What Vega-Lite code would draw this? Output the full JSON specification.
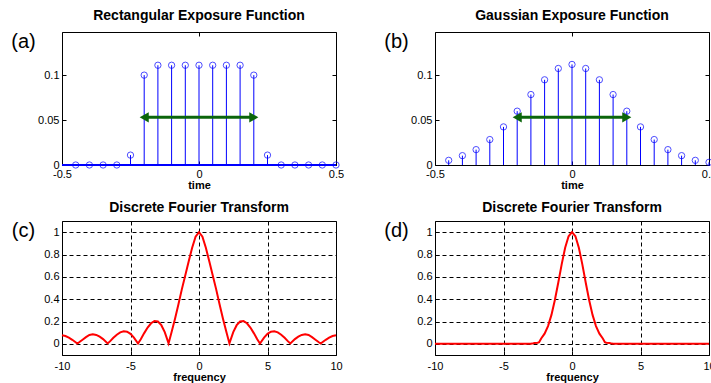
{
  "$schema": "https://vega.github.io/schema/vega-lite/v6.json",
  "padding": {"left": 10, "top": 8, "right": 0, "bottom": 0},
  "background": "white",
  "bounds": "flush",
  "spacing": {"row": 56, "column": 99},
  "columns": 2,
  "datasets": {
    "rect": [
      {"t": -0.45, "v": 0}, {"t": -0.4, "v": 0}, {"t": -0.35, "v": 0}, {"t": -0.3, "v": 0},
      {"t": -0.25, "v": 0.011}, {"t": -0.2, "v": 0.1}, {"t": -0.15, "v": 0.111}, {"t": -0.1, "v": 0.111},
      {"t": -0.05, "v": 0.111}, {"t": 0, "v": 0.111}, {"t": 0.05, "v": 0.111}, {"t": 0.1, "v": 0.111},
      {"t": 0.15, "v": 0.111}, {"t": 0.2, "v": 0.1}, {"t": 0.25, "v": 0.011}, {"t": 0.3, "v": 0},
      {"t": 0.35, "v": 0}, {"t": 0.4, "v": 0}, {"t": 0.45, "v": 0}, {"t": 0.5, "v": 0}
    ],
    "gauss": [
      {"t": -0.45, "v": 0.0052}, {"t": -0.4, "v": 0.0104}, {"t": -0.35, "v": 0.0171}, {"t": -0.3, "v": 0.0283},
      {"t": -0.25, "v": 0.0424}, {"t": -0.2, "v": 0.0599}, {"t": -0.15, "v": 0.0784}, {"t": -0.1, "v": 0.0948},
      {"t": -0.05, "v": 0.1074}, {"t": 0, "v": 0.1119}, {"t": 0.05, "v": 0.1074}, {"t": 0.1, "v": 0.0948},
      {"t": 0.15, "v": 0.0784}, {"t": 0.2, "v": 0.0599}, {"t": 0.25, "v": 0.0424}, {"t": 0.3, "v": 0.0283},
      {"t": 0.35, "v": 0.0171}, {"t": 0.4, "v": 0.0104}, {"t": 0.45, "v": 0.0052}, {"t": 0.5, "v": 0.003}
    ],
    "arrow": [{"x1": -0.2, "x2": 0.2, "y": 0.053}],
    "dftRect": [
      {"f": -10, "v": 0.076}, {"f": -9.75, "v": 0.07}, {"f": -9.5, "v": 0.056}, {"f": -9.25, "v": 0.036},
      {"f": -8.88, "v": 0.003}, {"f": -8.75, "v": 0.014}, {"f": -8.5, "v": 0.037}, {"f": -8.25, "v": 0.06},
      {"f": -8, "v": 0.079}, {"f": -7.75, "v": 0.085}, {"f": -7.5, "v": 0.08}, {"f": -7.25, "v": 0.064},
      {"f": -7, "v": 0.042}, {"f": -6.67, "v": 0.003}, {"f": -6.5, "v": 0.022}, {"f": -6.25, "v": 0.054},
      {"f": -6, "v": 0.082}, {"f": -5.75, "v": 0.103}, {"f": -5.5, "v": 0.112}, {"f": -5.25, "v": 0.108},
      {"f": -5, "v": 0.089}, {"f": -4.75, "v": 0.056}, {"f": -4.45, "v": 0.003}, {"f": -4.25, "v": 0.041},
      {"f": -4, "v": 0.096}, {"f": -3.75, "v": 0.146}, {"f": -3.5, "v": 0.184}, {"f": -3.25, "v": 0.204},
      {"f": -3, "v": 0.2}, {"f": -2.75, "v": 0.167}, {"f": -2.5, "v": 0.105}, {"f": -2.22, "v": 0.004},
      {"f": -2, "v": 0.105}, {"f": -1.75, "v": 0.225}, {"f": -1.5, "v": 0.355}, {"f": -1.25, "v": 0.49},
      {"f": -1, "v": 0.615}, {"f": -0.75, "v": 0.74}, {"f": -0.5, "v": 0.86}, {"f": -0.25, "v": 0.96},
      {"f": 0, "v": 1.0},
      {"f": 0.25, "v": 0.96}, {"f": 0.5, "v": 0.86}, {"f": 0.75, "v": 0.74}, {"f": 1, "v": 0.615},
      {"f": 1.25, "v": 0.49}, {"f": 1.5, "v": 0.355}, {"f": 1.75, "v": 0.225}, {"f": 2, "v": 0.105},
      {"f": 2.22, "v": 0.004}, {"f": 2.5, "v": 0.105}, {"f": 2.75, "v": 0.167}, {"f": 3, "v": 0.2},
      {"f": 3.25, "v": 0.204}, {"f": 3.5, "v": 0.184}, {"f": 3.75, "v": 0.146}, {"f": 4, "v": 0.096},
      {"f": 4.25, "v": 0.041}, {"f": 4.45, "v": 0.003}, {"f": 4.75, "v": 0.056}, {"f": 5, "v": 0.089},
      {"f": 5.25, "v": 0.108}, {"f": 5.5, "v": 0.112}, {"f": 5.75, "v": 0.103}, {"f": 6, "v": 0.082},
      {"f": 6.25, "v": 0.054}, {"f": 6.5, "v": 0.022}, {"f": 6.67, "v": 0.003}, {"f": 7, "v": 0.042},
      {"f": 7.25, "v": 0.064}, {"f": 7.5, "v": 0.08}, {"f": 7.75, "v": 0.085}, {"f": 8, "v": 0.079},
      {"f": 8.25, "v": 0.06}, {"f": 8.5, "v": 0.037}, {"f": 8.75, "v": 0.014}, {"f": 8.88, "v": 0.003},
      {"f": 9.25, "v": 0.036}, {"f": 9.5, "v": 0.056}, {"f": 9.75, "v": 0.07}, {"f": 10, "v": 0.076}
    ],
    "dftGauss": [
      {"f": -10, "v": 0}, {"f": -3, "v": 0}, {"f": -2.9, "v": 0.002}, {"f": -2.75, "v": 0.008},
      {"f": -2.5, "v": 0.01}, {"f": -2.4, "v": 0.015}, {"f": -2.25, "v": 0.048}, {"f": -2, "v": 0.091},
      {"f": -1.75, "v": 0.159}, {"f": -1.5, "v": 0.259}, {"f": -1.25, "v": 0.392}, {"f": -1, "v": 0.549},
      {"f": -0.75, "v": 0.714}, {"f": -0.5, "v": 0.861}, {"f": -0.25, "v": 0.963}, {"f": 0, "v": 1.0},
      {"f": 0.25, "v": 0.963}, {"f": 0.5, "v": 0.861}, {"f": 0.75, "v": 0.714}, {"f": 1, "v": 0.549},
      {"f": 1.25, "v": 0.392}, {"f": 1.5, "v": 0.259}, {"f": 1.75, "v": 0.159}, {"f": 2, "v": 0.091},
      {"f": 2.25, "v": 0.048}, {"f": 2.4, "v": 0.015}, {"f": 2.5, "v": 0.01}, {"f": 2.75, "v": 0.008},
      {"f": 2.9, "v": 0.002}, {"f": 3, "v": 0}, {"f": 10, "v": 0}
    ]
  },
  "concat": [
    {
      "width": 274, "height": 133,
      "title": {"text": "Rectangular Exposure Function", "offset": 8},
      "resolve": {"axis": {"x": "independent", "y": "independent"}},
      "layer": [
        {
          "data": {"name": "rect"},
          "mark": {"type": "rule", "color": "#0000ff", "strokeWidth": 1},
          "encoding": {
            "x": {"field": "t", "type": "quantitative", "scale": {"domain": [-0.5, 0.5], "nice": false, "zero": false},
              "axis": {"values": [-0.5, 0, 0.5], "title": "time"}},
            "y": {"field": "v", "type": "quantitative", "scale": {"domain": [0, 0.148], "nice": false},
              "axis": {"values": [0, 0.05, 0.1], "title": "(a)"}},
            "y2": {"datum": 0}
          }
        },
        {
          "data": {"name": "rect"},
          "mark": {"type": "point", "shape": "circle", "filled": false, "color": "#0000ff", "size": 40, "strokeWidth": 1},
          "encoding": {
            "x": {"field": "t", "type": "quantitative", "axis": {"orient": "top", "values": [-0.5, 0, 0.5], "labels": false, "title": null}},
            "y": {"field": "v", "type": "quantitative", "axis": {"orient": "right", "values": [0, 0.05, 0.1], "labels": false, "title": null}}
          }
        },
        {
          "data": {"name": "rect"},
          "mark": {"type": "rule", "color": "#0000ff", "strokeWidth": 1},
          "encoding": {"y": {"datum": 0, "axis": null}}
        },
        {
          "data": {"name": "arrow"},
          "mark": {"type": "rule", "color": "#0b650b", "strokeWidth": 3},
          "encoding": {"x": {"field": "x1", "type": "quantitative", "axis": null}, "x2": {"field": "x2"}, "y": {"field": "y", "type": "quantitative", "axis": null}}
        },
        {
          "data": {"name": "arrow"},
          "mark": {"type": "point", "shape": "triangle-left", "filled": true, "color": "#0b650b", "size": 110, "opacity": 1},
          "encoding": {"x": {"field": "x1", "type": "quantitative", "axis": null}, "y": {"field": "y", "type": "quantitative", "axis": null}}
        },
        {
          "data": {"name": "arrow"},
          "mark": {"type": "point", "shape": "triangle-right", "filled": true, "color": "#0b650b", "size": 110, "opacity": 1},
          "encoding": {"x": {"field": "x2", "type": "quantitative", "axis": null}, "y": {"field": "y", "type": "quantitative", "axis": null}}
        }
      ]
    },
    {
      "width": 274, "height": 133,
      "title": {"text": "Gaussian Exposure Function", "offset": 8},
      "resolve": {"axis": {"x": "independent", "y": "independent"}},
      "layer": [
        {
          "data": {"name": "gauss"},
          "mark": {"type": "rule", "color": "#0000ff", "strokeWidth": 1},
          "encoding": {
            "x": {"field": "t", "type": "quantitative", "scale": {"domain": [-0.5, 0.5], "nice": false, "zero": false},
              "axis": {"values": [-0.5, 0, 0.5], "title": "time"}},
            "y": {"field": "v", "type": "quantitative", "scale": {"domain": [0, 0.148], "nice": false},
              "axis": {"values": [0, 0.05, 0.1], "title": "(b)"}},
            "y2": {"datum": 0}
          }
        },
        {
          "data": {"name": "gauss"},
          "mark": {"type": "point", "shape": "circle", "filled": false, "color": "#0000ff", "size": 40, "strokeWidth": 1},
          "encoding": {
            "x": {"field": "t", "type": "quantitative", "axis": {"orient": "top", "values": [-0.5, 0, 0.5], "labels": false, "title": null}},
            "y": {"field": "v", "type": "quantitative", "axis": {"orient": "right", "values": [0, 0.05, 0.1], "labels": false, "title": null}}
          }
        },
        {
          "data": {"name": "arrow"},
          "mark": {"type": "rule", "color": "#0b650b", "strokeWidth": 3},
          "encoding": {"x": {"field": "x1", "type": "quantitative", "axis": null}, "x2": {"field": "x2"}, "y": {"field": "y", "type": "quantitative", "axis": null}}
        },
        {
          "data": {"name": "arrow"},
          "mark": {"type": "point", "shape": "triangle-left", "filled": true, "color": "#0b650b", "size": 110, "opacity": 1},
          "encoding": {"x": {"field": "x1", "type": "quantitative", "axis": null}, "y": {"field": "y", "type": "quantitative", "axis": null}}
        },
        {
          "data": {"name": "arrow"},
          "mark": {"type": "point", "shape": "triangle-right", "filled": true, "color": "#0b650b", "size": 110, "opacity": 1},
          "encoding": {"x": {"field": "x2", "type": "quantitative", "axis": null}, "y": {"field": "y", "type": "quantitative", "axis": null}}
        }
      ]
    },
    {
      "width": 274, "height": 134,
      "title": {"text": "Discrete Fourier Transform", "offset": 5},
      "data": {"name": "dftRect"},
      "mark": {"type": "line", "color": "#ff0000", "strokeWidth": 2},
      "encoding": {
        "x": {"field": "f", "type": "quantitative", "scale": {"domain": [-10, 10], "nice": false, "zero": false},
          "axis": {"values": [-10, -5, 0, 5, 10], "title": "frequency", "grid": true, "labelPadding": 9}},
        "y": {"field": "v", "type": "quantitative", "scale": {"domain": [-0.1, 1.1], "nice": false},
          "axis": {"values": [0, 0.2, 0.4, 0.6, 0.8, 1], "title": "(c)", "grid": true}}
      }
    },
    {
      "width": 274, "height": 134,
      "title": {"text": "Discrete Fourier Transform", "offset": 5},
      "data": {"name": "dftGauss"},
      "mark": {"type": "line", "color": "#ff0000", "strokeWidth": 2},
      "encoding": {
        "x": {"field": "f", "type": "quantitative", "scale": {"domain": [-10, 10], "nice": false, "zero": false},
          "axis": {"values": [-10, -5, 0, 5, 10], "title": "frequency", "grid": true, "labelPadding": 9}},
        "y": {"field": "v", "type": "quantitative", "scale": {"domain": [-0.1, 1.1], "nice": false},
          "axis": {"values": [0, 0.2, 0.4, 0.6, 0.8, 1], "title": "(d)", "grid": true}}
      }
    }
  ],
  "config": {
    "font": "Liberation Sans",
    "view": {"stroke": "#000000", "strokeWidth": 1},
    "title": {"font": "Liberation Sans", "fontSize": 14, "fontWeight": "bold", "color": "#000000", "anchor": "middle"},
    "axis": {
      "grid": false,
      "gridColor": "#000000",
      "gridOpacity": 1,
      "gridDash": [4, 3],
      "gridWidth": 1,
      "domain": false,
      "tickColor": "#000000",
      "tickSize": -4,
      "labelFont": "Liberation Sans",
      "labelFontSize": 11,
      "labelColor": "#000000",
      "labelFlush": false,
      "labelOverlap": false,
      "labelPadding": 7,
      "labelExpr": "'' + datum.value"
    },
    "axisX": {
      "titleFont": "Liberation Sans",
      "titleFontSize": 11,
      "titleFontWeight": "bold",
      "titleColor": "#000000",
      "titlePadding": 0
    },
    "axisY": {
      "titleFont": "Liberation Sans",
      "titleFontSize": 20,
      "titleFontWeight": "normal",
      "titleColor": "#000000",
      "titleAngle": 0,
      "titleAlign": "center",
      "titleBaseline": "middle",
      "titleX": -39,
      "titleY": 9
    }
  }
}
